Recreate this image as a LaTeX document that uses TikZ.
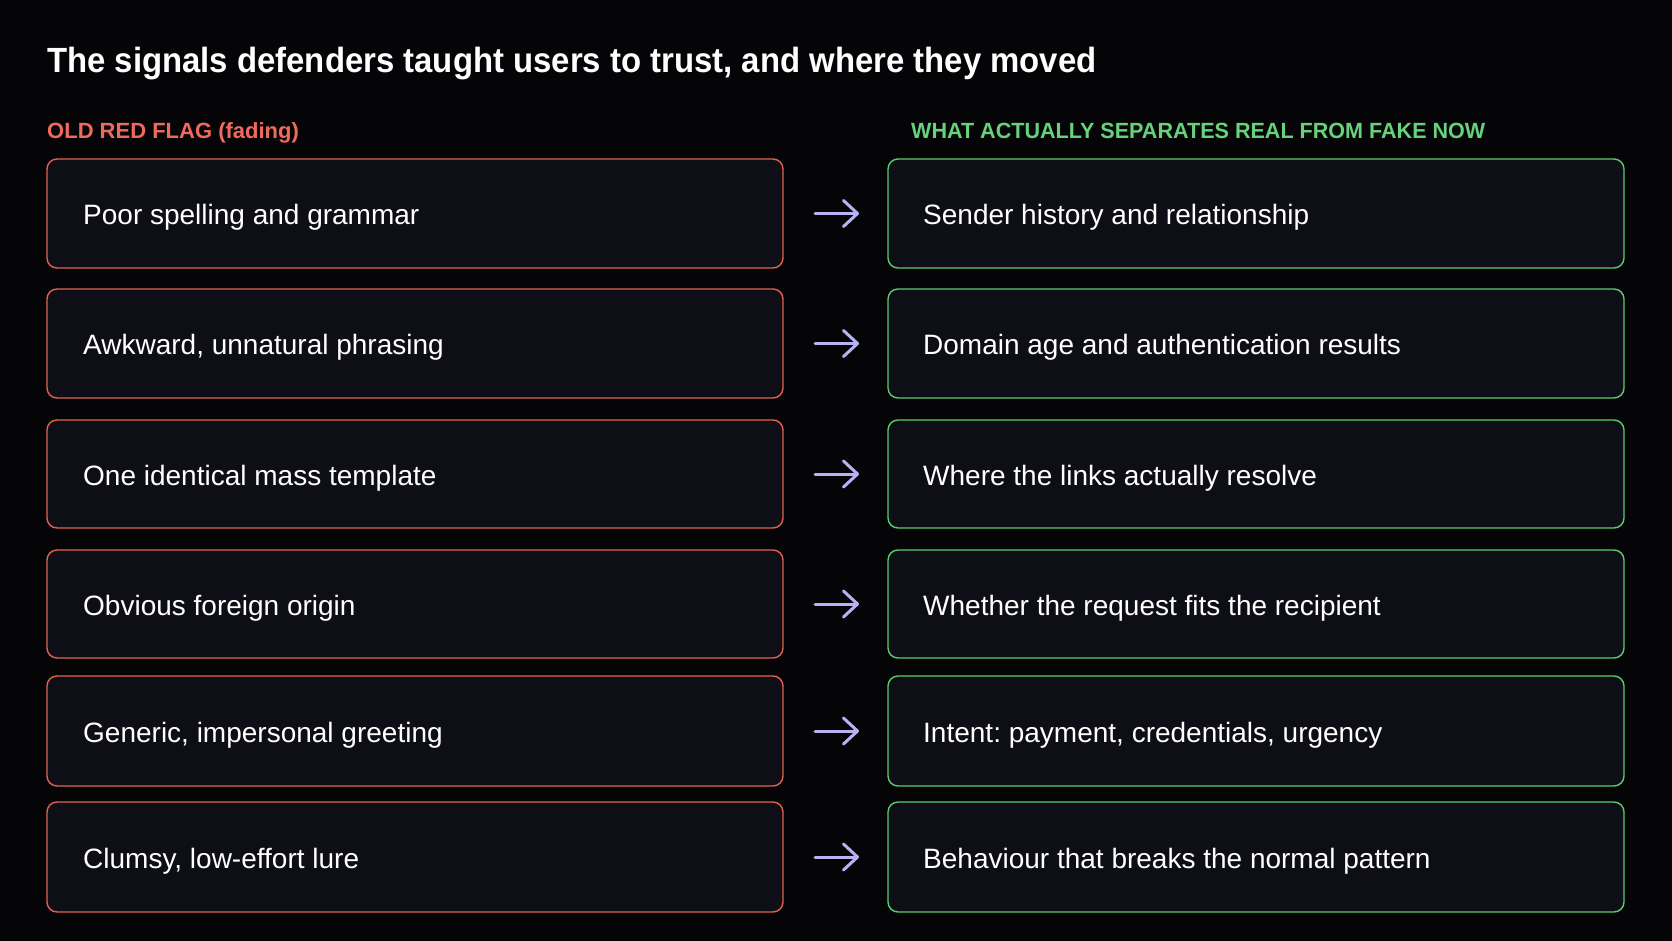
\documentclass[tikz,border=0pt]{standalone}
\usepackage{fontspec}
\setmainfont{Liberation Sans}
\newfontfamily\titlefont[FakeStretch=0.94]{Liberation Sans}
\newfontfamily\greenhdrfont[FakeStretch=0.98]{Liberation Sans}
\usetikzlibrary{arrows.meta}
\frenchspacing
\definecolor{bg}{HTML}{050508}
\definecolor{boxfill}{HTML}{0E0E16}
\definecolor{oldred}{HTML}{E5604F}
\definecolor{hdrred}{HTML}{EE6A5C}
\definecolor{newgreen}{HTML}{5CCB6E}
\definecolor{hdrgreen}{HTML}{66D27A}
\definecolor{arrowc}{HTML}{B8B2F2}
\tikzset{
  oldbox/.style={draw=oldred, fill=boxfill, line width=1.4pt, rounded corners=10pt},
  newbox/.style={draw=newgreen, fill=boxfill, line width=1.4pt, rounded corners=10pt},
  itemtxt/.style={anchor=base west, inner sep=0pt, text=white, font=\frenchspacing\fontsize{28}{30}\selectfont},
  hdr/.style={anchor=base west, inner sep=0pt, font=\bfseries\fontsize{22}{24}\selectfont},
  flow/.style={arrowc, line width=3pt, line cap=round, -{Straight Barb[length=14pt,width=26pt,line width=3pt,round]}},
}
\begin{document}
\begin{tikzpicture}[x=1pt,y=-1pt]
\fill[bg] (0,0) rectangle (1672,941);
\useasboundingbox (0,0) rectangle (1672,941);
\node[anchor=base west, inner sep=0pt, text=white, font=\titlefont\bfseries\frenchspacing\fontsize{35}{38}\selectfont] (title) at (47,73) {The signals defenders taught users to trust, and where they moved};
\node[hdr, text=hdrred] (hl) at (47,139) {OLD RED FLAG (fading)};
\node[hdr, text=hdrgreen, font=\greenhdrfont\bfseries\fontsize{22}{24}\selectfont] (hr) at (911,139) {WHAT ACTUALLY SEPARATES REAL FROM FAKE NOW};
\foreach \i/\t/\b/\l/\r in {
  1/159/268/{Poor spelling and grammar}/{Sender history and relationship},
  2/289/398/{Awkward, unnatural phrasing}/{Domain age and authentication results},
  3/420/528/{One identical mass template}/{Where the links actually resolve},
  4/550/658/{Obvious foreign origin}/{Whether the request fits the recipient},
  5/676/786/{Generic, impersonal greeting}/{Intent: payment, credentials, urgency},
  6/802/912/{Clumsy, low-effort lure}/{Behaviour that breaks the normal pattern}} {
  \draw[oldbox] (47,\t) rectangle (783,\b);
  \draw[newbox] (888,\t) rectangle (1624,\b);
  \pgfmathsetmacro{\m}{(\t+\b)/2}
  \node[itemtxt] (L\i) at (83,\m+11) {\l};
  \node[itemtxt] (R\i) at (923,\m+11) {\r};
  \coordinate (a\i) at (815,\m);
  \coordinate (b\i) at (859,\m);
  \draw[flow] (a\i) -- (b\i);
}
\end{tikzpicture}
\end{document}
